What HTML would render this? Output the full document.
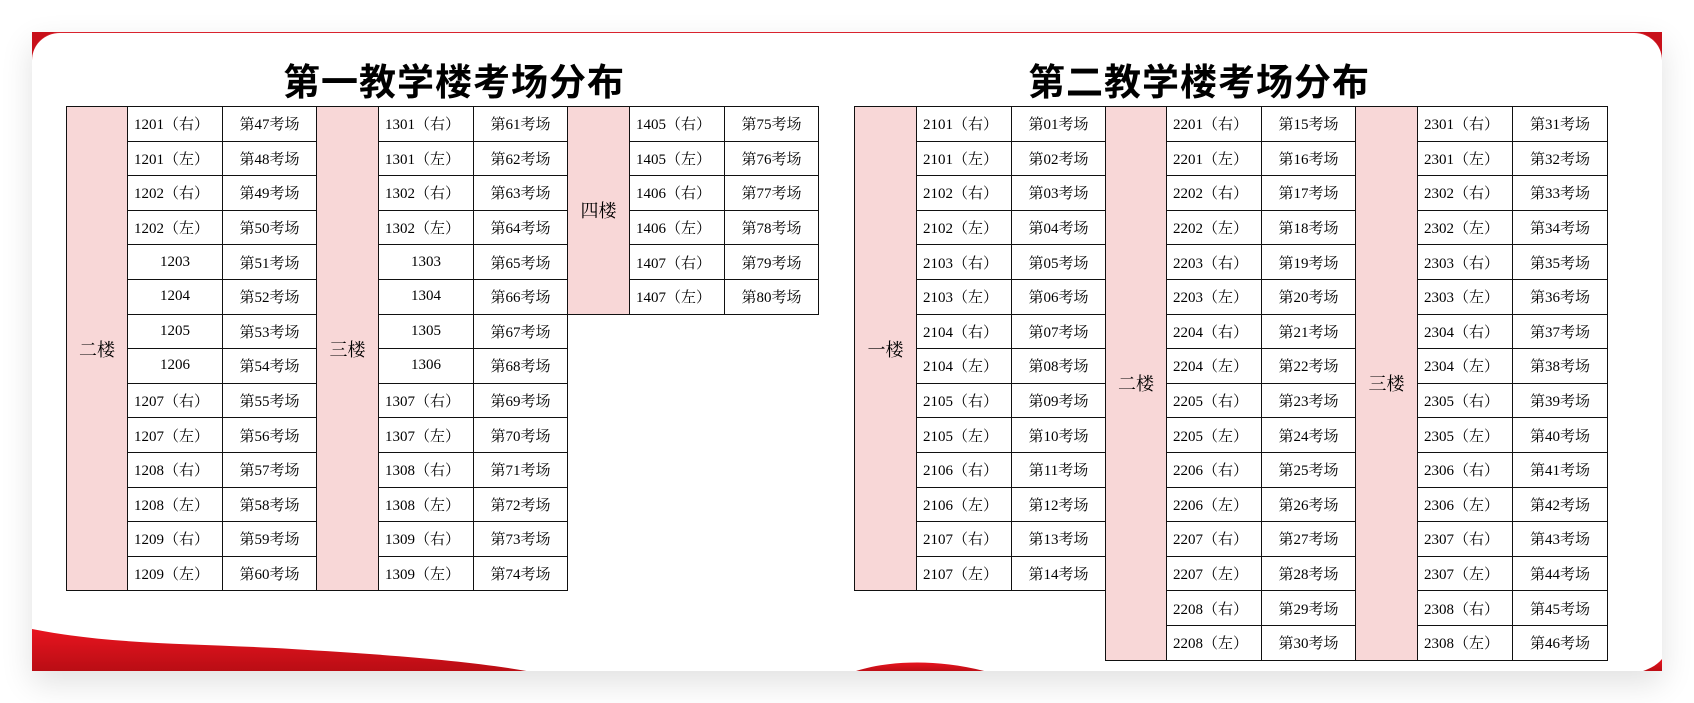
<!DOCTYPE html>
<html><head><meta charset="utf-8"><style>
body{margin:0;width:1694px;height:703px;background:#fff;position:relative;overflow:hidden;font-family:"Liberation Serif","Noto Serif CJK SC",serif;}
.card{position:absolute;left:32px;top:32px;width:1630px;height:639px;background:#fff;box-shadow:0 12px 30px rgba(0,0,0,0.12);}
.corner{position:absolute;width:30px;height:30px;background:#c8101a;}
.inner{position:absolute;left:0;top:0;width:1630px;height:639px;background:#fff;border-radius:28px 28px 0 0;border-top:1px solid #d9232e;box-sizing:border-box;overflow:hidden;}
.title{position:absolute;top:52px;font-size:37px;font-weight:bold;font-family:"Noto Sans CJK SC","WenQuanYi Zen Hei",sans-serif;color:#000;transform:translateX(-50%);white-space:nowrap;letter-spacing:1px;}
table{position:absolute;border-collapse:collapse;table-layout:fixed;font-size:15px;}
td{border:1.5px solid #111;height:33.6px;padding:0;text-align:center;white-space:nowrap;overflow:hidden;background:#fff;}
td.f{background:#f8d7d7;font-size:18px;}
td.r{text-align:left;padding-left:6px;}
</style></head><body>
<div class="card">
<div class="corner" style="left:0;top:0"></div>
<div class="corner" style="right:0;top:0"></div>
<div class="inner">
<svg width="1630" height="639" style="position:absolute;left:0;top:0">
<defs><linearGradient id="g" x1="0" y1="0" x2="0" y2="1"><stop offset="0" stop-color="#e8141f"/><stop offset="1" stop-color="#b80d14"/></linearGradient></defs>
<path d="M0,596 C80,612 160,610 260,616 C360,622 440,628 500,639 L0,639 Z" fill="url(#g)"/>
<path d="M821,639 C850,629 900,624 956,639 Z" fill="url(#g)"/>
<path d="M1608,639 C1618,636 1625,632 1630,626 L1630,639 Z" fill="url(#g)"/>
</svg>
</div>
</div>
<div class="title" style="left:454px">第一教学楼考场分布</div>
<div class="title" style="left:1199px">第二教学楼考场分布</div>

<table style="left:66px;top:106px;width:250px"><colgroup><col style="width:61px"><col style="width:95px"><col style="width:94px"></colgroup>
<tr><td class="f" rowspan="14">二楼</td><td class="r">1201（右）</td><td>第47考场</td></tr>
<tr><td class="r">1201（左）</td><td>第48考场</td></tr>
<tr><td class="r">1202（右）</td><td>第49考场</td></tr>
<tr><td class="r">1202（左）</td><td>第50考场</td></tr>
<tr><td>1203</td><td>第51考场</td></tr>
<tr><td>1204</td><td>第52考场</td></tr>
<tr><td>1205</td><td>第53考场</td></tr>
<tr><td>1206</td><td>第54考场</td></tr>
<tr><td class="r">1207（右）</td><td>第55考场</td></tr>
<tr><td class="r">1207（左）</td><td>第56考场</td></tr>
<tr><td class="r">1208（右）</td><td>第57考场</td></tr>
<tr><td class="r">1208（左）</td><td>第58考场</td></tr>
<tr><td class="r">1209（右）</td><td>第59考场</td></tr>
<tr><td class="r">1209（左）</td><td>第60考场</td></tr>
</table>

<table style="left:316px;top:106px;width:251px"><colgroup><col style="width:62px"><col style="width:95px"><col style="width:94px"></colgroup>
<tr><td class="f" rowspan="14">三楼</td><td class="r">1301（右）</td><td>第61考场</td></tr>
<tr><td class="r">1301（左）</td><td>第62考场</td></tr>
<tr><td class="r">1302（右）</td><td>第63考场</td></tr>
<tr><td class="r">1302（左）</td><td>第64考场</td></tr>
<tr><td>1303</td><td>第65考场</td></tr>
<tr><td>1304</td><td>第66考场</td></tr>
<tr><td>1305</td><td>第67考场</td></tr>
<tr><td>1306</td><td>第68考场</td></tr>
<tr><td class="r">1307（右）</td><td>第69考场</td></tr>
<tr><td class="r">1307（左）</td><td>第70考场</td></tr>
<tr><td class="r">1308（右）</td><td>第71考场</td></tr>
<tr><td class="r">1308（左）</td><td>第72考场</td></tr>
<tr><td class="r">1309（右）</td><td>第73考场</td></tr>
<tr><td class="r">1309（左）</td><td>第74考场</td></tr>
</table>

<table style="left:567px;top:106px;width:251px"><colgroup><col style="width:62px"><col style="width:95px"><col style="width:94px"></colgroup>
<tr><td class="f" rowspan="6">四楼</td><td class="r">1405（右）</td><td>第75考场</td></tr>
<tr><td class="r">1405（左）</td><td>第76考场</td></tr>
<tr><td class="r">1406（右）</td><td>第77考场</td></tr>
<tr><td class="r">1406（左）</td><td>第78考场</td></tr>
<tr><td class="r">1407（右）</td><td>第79考场</td></tr>
<tr><td class="r">1407（左）</td><td>第80考场</td></tr>
</table>

<table style="left:854px;top:106px;width:251px"><colgroup><col style="width:62px"><col style="width:95px"><col style="width:94px"></colgroup>
<tr><td class="f" rowspan="14">一楼</td><td class="r">2101（右）</td><td>第01考场</td></tr>
<tr><td class="r">2101（左）</td><td>第02考场</td></tr>
<tr><td class="r">2102（右）</td><td>第03考场</td></tr>
<tr><td class="r">2102（左）</td><td>第04考场</td></tr>
<tr><td class="r">2103（右）</td><td>第05考场</td></tr>
<tr><td class="r">2103（左）</td><td>第06考场</td></tr>
<tr><td class="r">2104（右）</td><td>第07考场</td></tr>
<tr><td class="r">2104（左）</td><td>第08考场</td></tr>
<tr><td class="r">2105（右）</td><td>第09考场</td></tr>
<tr><td class="r">2105（左）</td><td>第10考场</td></tr>
<tr><td class="r">2106（右）</td><td>第11考场</td></tr>
<tr><td class="r">2106（左）</td><td>第12考场</td></tr>
<tr><td class="r">2107（右）</td><td>第13考场</td></tr>
<tr><td class="r">2107（左）</td><td>第14考场</td></tr>
</table>

<table style="left:1105px;top:106px;width:250px"><colgroup><col style="width:61px"><col style="width:95px"><col style="width:94px"></colgroup>
<tr><td class="f" rowspan="16">二楼</td><td class="r">2201（右）</td><td>第15考场</td></tr>
<tr><td class="r">2201（左）</td><td>第16考场</td></tr>
<tr><td class="r">2202（右）</td><td>第17考场</td></tr>
<tr><td class="r">2202（左）</td><td>第18考场</td></tr>
<tr><td class="r">2203（右）</td><td>第19考场</td></tr>
<tr><td class="r">2203（左）</td><td>第20考场</td></tr>
<tr><td class="r">2204（右）</td><td>第21考场</td></tr>
<tr><td class="r">2204（左）</td><td>第22考场</td></tr>
<tr><td class="r">2205（右）</td><td>第23考场</td></tr>
<tr><td class="r">2205（左）</td><td>第24考场</td></tr>
<tr><td class="r">2206（右）</td><td>第25考场</td></tr>
<tr><td class="r">2206（左）</td><td>第26考场</td></tr>
<tr><td class="r">2207（右）</td><td>第27考场</td></tr>
<tr><td class="r">2207（左）</td><td>第28考场</td></tr>
<tr><td class="r">2208（右）</td><td>第29考场</td></tr>
<tr><td class="r">2208（左）</td><td>第30考场</td></tr>
</table>

<table style="left:1355px;top:106px;width:252px"><colgroup><col style="width:62px"><col style="width:95px"><col style="width:95px"></colgroup>
<tr><td class="f" rowspan="16">三楼</td><td class="r">2301（右）</td><td>第31考场</td></tr>
<tr><td class="r">2301（左）</td><td>第32考场</td></tr>
<tr><td class="r">2302（右）</td><td>第33考场</td></tr>
<tr><td class="r">2302（左）</td><td>第34考场</td></tr>
<tr><td class="r">2303（右）</td><td>第35考场</td></tr>
<tr><td class="r">2303（左）</td><td>第36考场</td></tr>
<tr><td class="r">2304（右）</td><td>第37考场</td></tr>
<tr><td class="r">2304（左）</td><td>第38考场</td></tr>
<tr><td class="r">2305（右）</td><td>第39考场</td></tr>
<tr><td class="r">2305（左）</td><td>第40考场</td></tr>
<tr><td class="r">2306（右）</td><td>第41考场</td></tr>
<tr><td class="r">2306（左）</td><td>第42考场</td></tr>
<tr><td class="r">2307（右）</td><td>第43考场</td></tr>
<tr><td class="r">2307（左）</td><td>第44考场</td></tr>
<tr><td class="r">2308（右）</td><td>第45考场</td></tr>
<tr><td class="r">2308（左）</td><td>第46考场</td></tr>
</table>
</body></html>
